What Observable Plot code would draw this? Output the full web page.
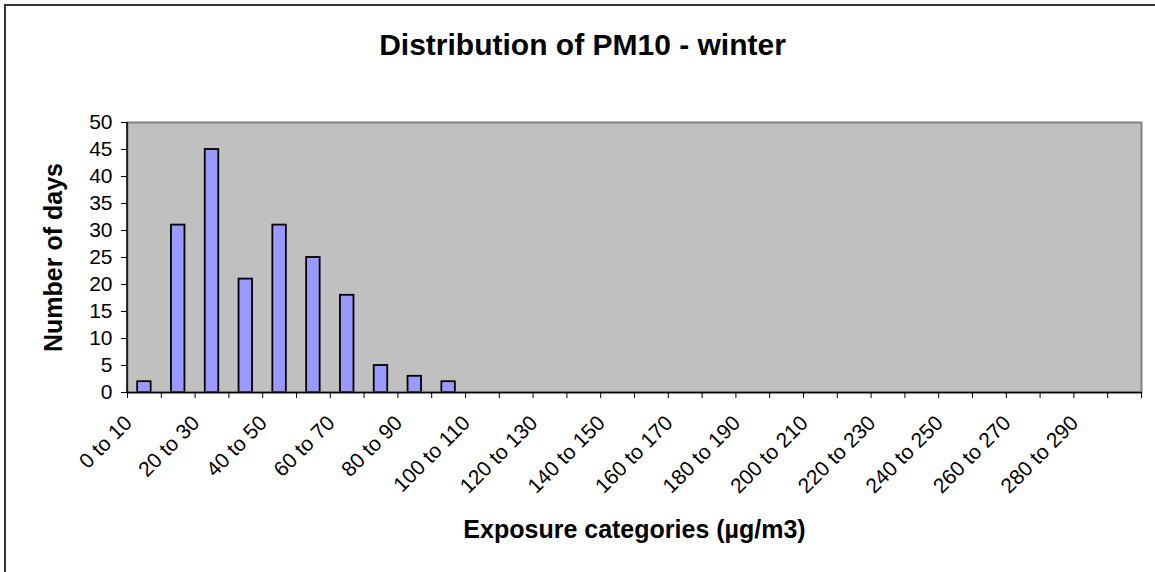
<!DOCTYPE html>
<html><head><meta charset="utf-8">
<script src="https://cdn.jsdelivr.net/npm/d3@7"></script>
<script src="https://cdn.jsdelivr.net/npm/@observablehq/plot@0.6"></script>
<style>
html,body{margin:0;padding:0;background:#fff;overflow:hidden;}
#chart{position:absolute;left:0;top:0;}
#border{position:absolute;left:4px;top:4px;width:1400px;height:800px;border-left:2px solid #333;border-top:2px solid #333;pointer-events:none;}
</style></head><body>
<div id="chart"></div><div id="border"></div>
<script>
const title = "Distribution of PM10 - winter";
const yLabel = "Number of days";
const xLabel = "Exposure categories (µg/m3)";
const categories = ["0 to 10","10 to 20","20 to 30","30 to 40","40 to 50","50 to 60","60 to 70","70 to 80","80 to 90","90 to 100",
  "100 to 110","110 to 120","120 to 130","130 to 140","140 to 150","150 to 160","160 to 170","170 to 180","180 to 190","190 to 200",
  "200 to 210","210 to 220","220 to 230","230 to 240","240 to 250","250 to 260","260 to 270","270 to 280","280 to 290","290 to 300"];
const counts = [2,31,45,21,31,25,18,5,3,2, 0,0,0,0,0,0,0,0,0,0, 0,0,0,0,0,0,0,0,0,0];
const yTicks = [0,5,10,15,20,25,30,35,40,45,50];
const labeledCategories = categories.filter((d,i)=>i%2===0);
const data = categories.map((c,i)=>({category:c, days:counts[i]}));

const W=1155,H=572, mL=127, mR=14, mT=122, mB=180;
const step=(W-mL-mR)/categories.length;
const font = "'Liberation Sans', Arial, sans-serif";

const leftLine = (index, scales, values, dim) =>
  d3.create("svg:line")
    .attr("x1", dim.marginLeft).attr("x2", dim.marginLeft)
    .attr("y1", dim.marginTop).attr("y2", dim.height - dim.marginBottom)
    .attr("stroke", "#000").attr("stroke-width", 1.5).node();

const chart = Plot.plot({
  width:W, height:H, marginLeft:mL, marginRight:mR, marginTop:mT, marginBottom:mB,
  style:{fontFamily:font, background:"#fff", overflow:"visible", color:"#000"},
  x:{type:"band", domain:categories, paddingInner:0.6, paddingOuter:0.3, round:false, label:null},
  y:{domain:[0,50], label:null},
  marks:[
    Plot.frame({fill:"#c0c0c0"}),
    Plot.barY(data,{x:"category", y:"days", fill:"#9999ff", stroke:"#000", strokeWidth:1.8}),
    Plot.frame({stroke:"#808080", strokeWidth:2}),
    Plot.ruleY([0],{stroke:"#000", strokeWidth:1.5}),
    leftLine,
    Plot.axisY({ticks:yTicks, tickSize:6, tickPadding:9, fontSize:21, label:null}),
    Plot.axisX({ticks:categories, tickSize:6, tickFormat:()=>"", dx:-step/2, label:null}),
    Plot.axisX({ticks:[categories[categories.length-1]], tickSize:6, tickFormat:()=>"", dx:step/2, label:null}),
    Plot.axisX({ticks:labeledCategories, tickSize:0, tickRotate:-45, tickPadding:27, dx:-16, fontSize:21, label:null}),
    Plot.text([title],{text:d=>d, frameAnchor:"top-left", dx:582-mL, dy:-89, textAnchor:"middle", fontSize:30, fontWeight:"bold"}),
    Plot.text([xLabel],{text:d=>d, frameAnchor:"bottom", dy:145, fontSize:25, fontWeight:"bold"}),
    Plot.text([yLabel],{text:d=>d, frameAnchor:"left", dx:-74, rotate:-90, textAnchor:"middle", fontSize:25, fontWeight:"bold"})
  ]
});
document.getElementById("chart").appendChild(chart);
</script>
</body></html>
